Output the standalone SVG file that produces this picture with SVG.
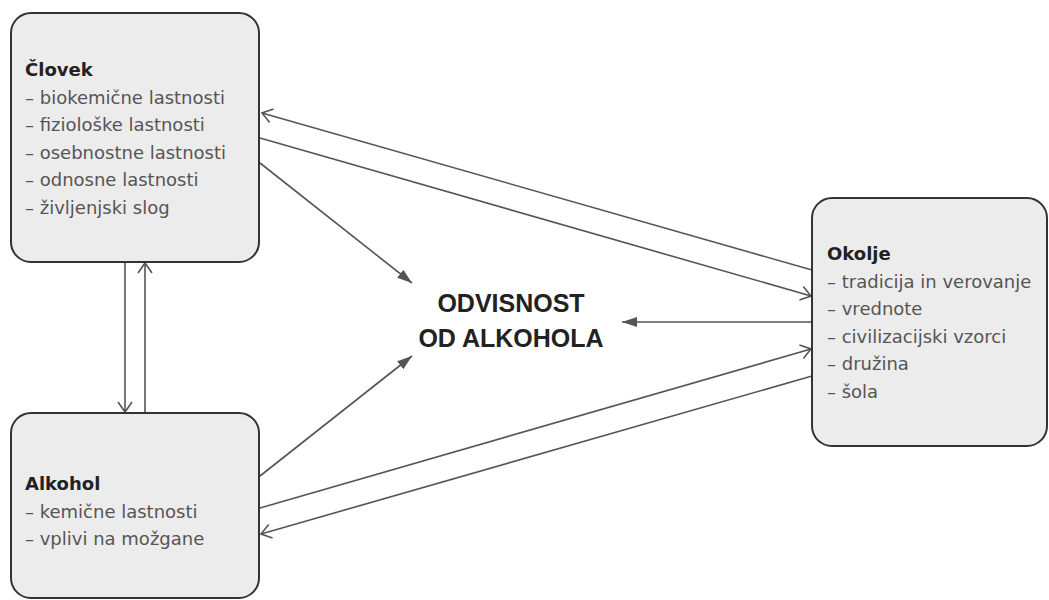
<svg xmlns="http://www.w3.org/2000/svg" width="1049" height="600" viewBox="0 0 1049 600">
<defs>
<style>
.box{fill:#ececec;stroke:#333;stroke-width:2}
.h{font-family:"DejaVu Sans","Liberation Sans",sans-serif;font-weight:bold;font-size:18px;fill:#222}
.t{font-family:"DejaVu Sans","Liberation Sans",sans-serif;font-size:18px;fill:#555}
.c{font-family:"Liberation Sans",Arial,sans-serif;font-weight:bold;font-size:25px;fill:#222;text-anchor:middle}
.ln{stroke:#555;stroke-width:1.6;fill:none}
.o{marker-end:url(#open)}
.f{marker-end:url(#fill)}
</style>
<marker id="open" markerUnits="userSpaceOnUse" markerWidth="14" markerHeight="16" refX="11" refY="8" orient="auto">
<path d="M1,1 L11,8 L1,15" fill="none" stroke="#555" stroke-width="1.6"/>
</marker>
<marker id="fill" markerUnits="userSpaceOnUse" markerWidth="16" markerHeight="12" refX="15" refY="6" orient="auto">
<path d="M0,1 L15,6 L0,11 Z" fill="#555"/>
</marker>
</defs>
<g id="connectors">
<path class="ln o" d="M812,270 L262,113"/>
<path class="ln o" d="M260,138 L811,296"/>
<path class="ln f" d="M260,163 L412,283"/>
<path class="ln f" d="M260,476 L412,356"/>
<path class="ln f" d="M812,322 L622,322"/>
<path class="ln o" d="M260,508 L811,349"/>
<path class="ln o" d="M812,376 L261,534"/>
<path class="ln o" d="M125,262 L125,412"/>
<path class="ln o" d="M145,413 L145,263"/>
</g>
<g id="clovek">
<rect class="box" x="11" y="13" width="248" height="249" rx="20"/>
<text class="h" x="25" y="76">Človek</text>
<text class="t" x="25" y="104">– biokemične lastnosti</text>
<text class="t" x="25" y="131">– fiziološke lastnosti</text>
<text class="t" x="25" y="159">– osebnostne lastnosti</text>
<text class="t" x="25" y="186">– odnosne lastnosti</text>
<text class="t" x="25" y="214">– življenjski slog</text>
</g>
<g id="alkohol">
<rect class="box" x="11" y="413" width="248" height="185" rx="20"/>
<text class="h" x="25" y="490">Alkohol</text>
<text class="t" x="25" y="518">– kemične lastnosti</text>
<text class="t" x="25" y="545">– vplivi na možgane</text>
</g>
<g id="okolje">
<rect class="box" x="812" y="198" width="235" height="248" rx="20"/>
<text class="h" x="827" y="260">Okolje</text>
<text class="t" x="827" y="288">– tradicija in verovanje</text>
<text class="t" x="827" y="315">– vrednote</text>
<text class="t" x="827" y="343">– civilizacijski vzorci</text>
<text class="t" x="827" y="370">– družina</text>
<text class="t" x="827" y="398">– šola</text>
</g>
<g id="center">
<text class="c" x="511" y="312">ODVISNOST</text>
<text class="c" x="511" y="347">OD ALKOHOLA</text>
</g>
</svg>
